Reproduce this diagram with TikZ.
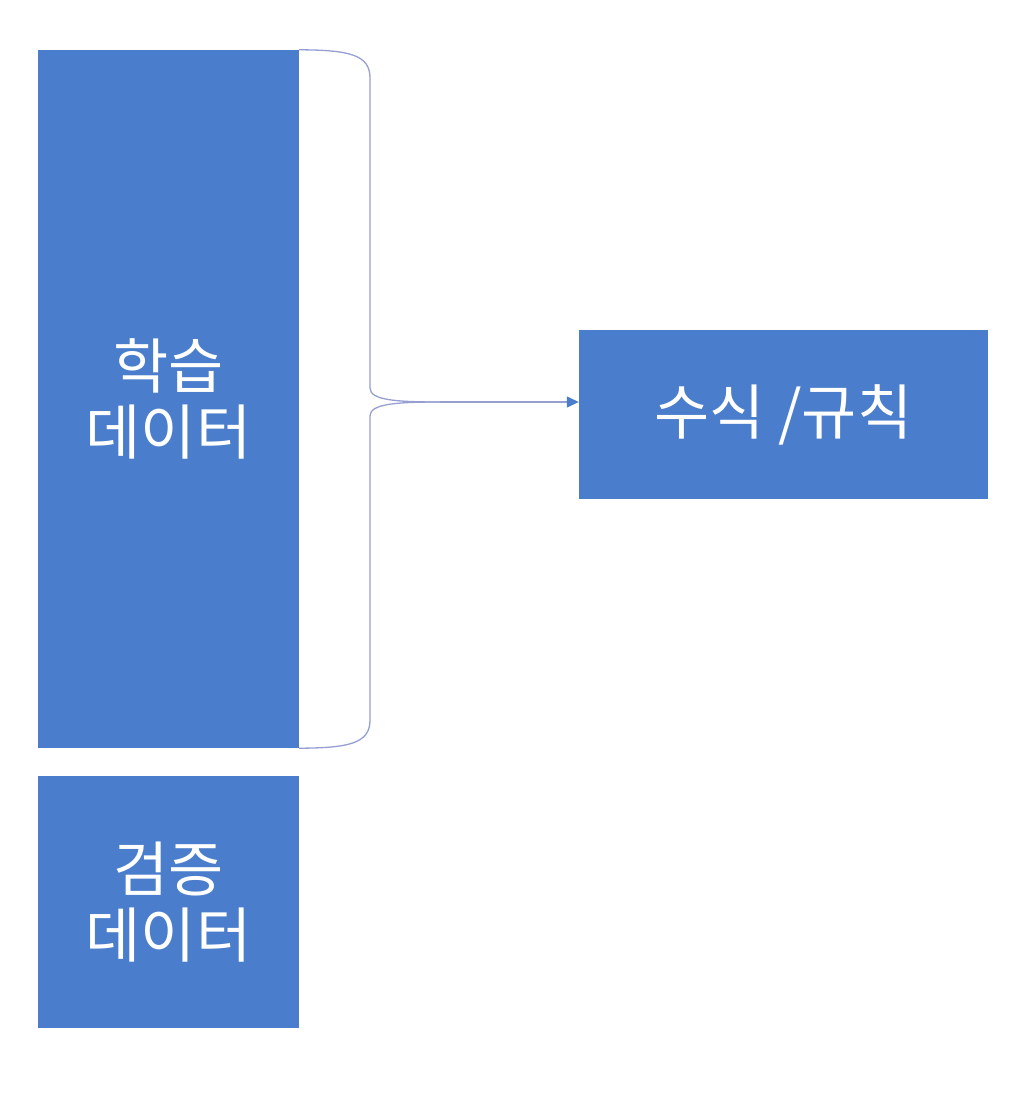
\documentclass[tikz,border=0pt]{standalone}
\usepackage{fontspec}
\setmainfont{Noto Sans CJK KR}
\usetikzlibrary{arrows.meta}
\definecolor{boxblue}{RGB}{74,125,203}
\definecolor{bracecol}{RGB}{150,158,210}
\begin{document}
\begin{tikzpicture}[x=1pt,y=-1pt,
  box/.style={fill=boxblue, draw=none, text=white, inner sep=0pt, font=\fontsize{60}{66}\selectfont, align=center},
  bracestyle/.style={draw=bracecol, line width=1.3pt},
  arrowstyle/.style={draw=bracecol, line width=1.3pt, -{Triangle[length=12pt,width=11pt,fill=boxblue,color=boxblue]}}]
\useasboundingbox (0,0) rectangle (1032,1100);
\node[box, minimum width=261pt, minimum height=698pt] (train) at (168.5,399) {학습\\데이터};
\node[box, minimum width=261pt, minimum height=252pt] (valid) at (168.5,902) {검증\\데이터};
\node[box, minimum width=409pt, minimum height=169pt] (rule) at (783.5,414.5) {수식 /규칙};
\coordinate (tip) at (440,402);
\draw[bracestyle] (train.north east) .. controls (350,50) and (370,55) .. (370,78)
  -- (370,388) .. controls (370,400) and (395,402) .. (tip);
\draw[bracestyle] (train.south east) .. controls (350,748) and (370,743) .. (370,720)
  -- (370,416) .. controls (370,404) and (395,402) .. (tip);
\draw[arrowstyle] (tip) -- (tip -| rule.west);
\end{tikzpicture}
\end{document}
